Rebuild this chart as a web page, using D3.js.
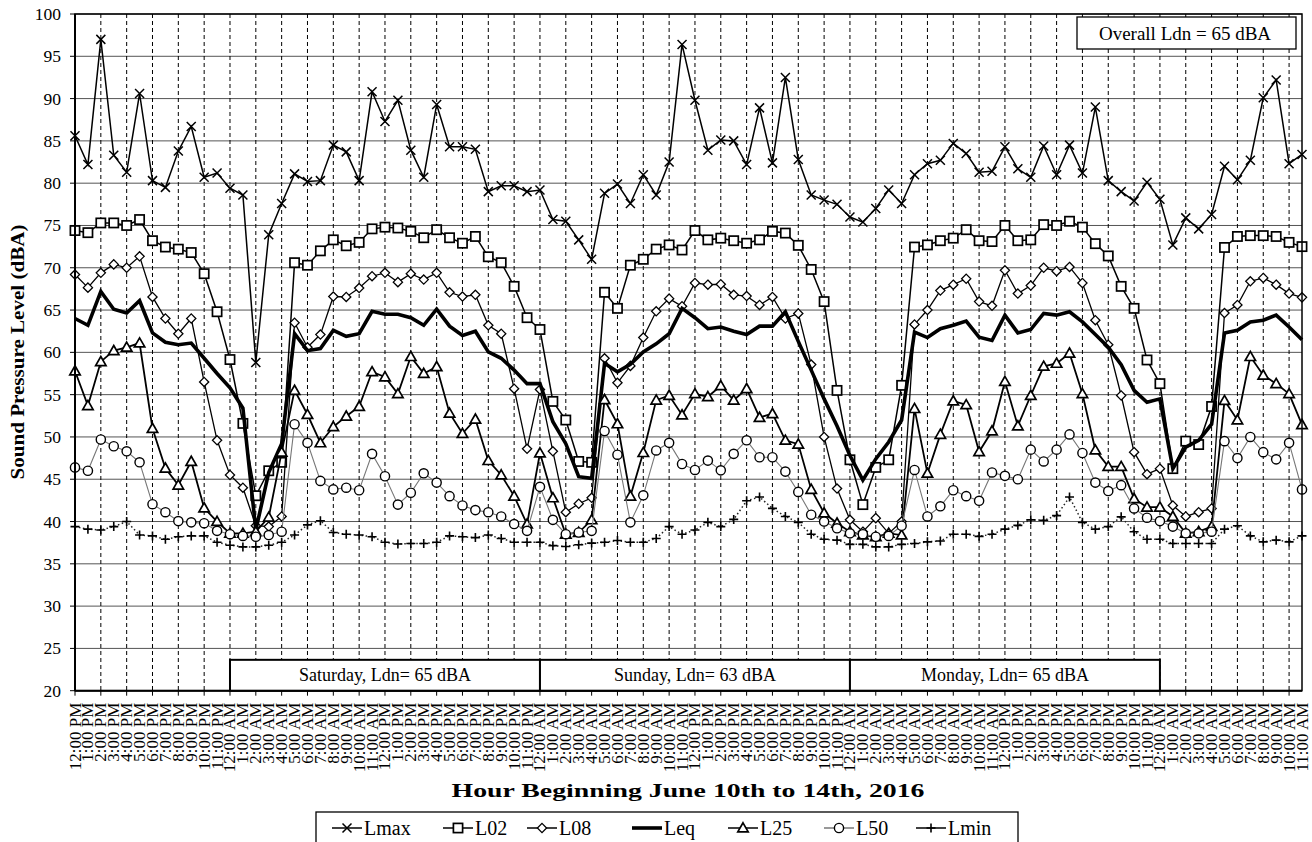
<!DOCTYPE html>
<html>
<head>
<meta charset="utf-8">
<script src="https://d3js.org/d3.v7.min.js"></script>
<style>
  body { margin: 0; background: #fff; }
  svg text { font-family: "Liberation Serif", "Times New Roman", serif; fill: #000; }
</style>
</head>
<body>
<svg id="chart" width="1312" height="842"></svg>
<script>

// hour labels for one day, starting at noon
var hourNames = ["12:00 PM","1:00 PM","2:00 PM","3:00 PM","4:00 PM","5:00 PM","6:00 PM","7:00 PM","8:00 PM","9:00 PM","10:00 PM","11:00 PM",
                 "12:00 AM","1:00 AM","2:00 AM","3:00 AM","4:00 AM","5:00 AM","6:00 AM","7:00 AM","8:00 AM","9:00 AM","10:00 AM","11:00 AM"];
var hourLabels = [].concat(hourNames, hourNames, hourNames, hourNames);

var Lmax = [85.6,82.2,97.0,83.3,81.3,90.6,80.3,79.5,83.8,86.7,80.7,81.2,79.4,78.6,58.8,73.9,77.6,81.1,80.2,80.3,84.5,83.7,80.3,90.8,
            87.3,89.8,83.9,80.7,89.3,84.3,84.3,84.0,79.0,79.7,79.7,79.0,79.2,75.7,75.5,73.3,71.0,78.8,79.9,77.6,81.0,78.6,82.5,96.4,
            89.8,83.9,85.1,85.0,82.2,88.9,82.4,92.5,82.8,78.6,78.0,77.5,76.0,75.4,77.0,79.2,77.6,81.0,82.3,82.7,84.7,83.5,81.3,81.4,
            84.3,81.7,80.7,84.4,81.0,84.5,81.2,89.0,80.3,79.0,77.9,80.1,78.1,72.7,75.9,74.6,76.3,82.0,80.4,82.7,90.1,92.2,82.3,83.4];
var L02  = [74.4,74.15,75.3,75.3,75.0,75.7,73.2,72.45,72.2,71.8,69.3,64.8,59.15,51.6,43.05,46.0,47.0,70.6,70.3,72.0,73.3,72.6,73.0,74.6,
            74.8,74.7,74.3,73.55,74.5,73.55,72.9,73.7,71.3,70.6,67.8,64.1,62.7,54.2,52.0,47.1,47.0,67.1,65.2,70.3,71.0,72.2,72.7,72.1,
            74.4,73.3,73.5,73.2,72.9,73.3,74.3,74.1,72.65,69.8,66.0,55.5,47.3,42.0,46.4,47.3,56.1,72.45,72.7,73.2,73.5,74.5,73.2,73.1,
            75.0,73.2,73.3,75.1,75.0,75.5,74.8,72.85,71.4,67.8,65.2,59.1,56.3,46.25,49.5,49.1,53.6,72.4,73.7,73.8,73.8,73.7,73.0,72.5];
var L08  = [69.2,67.65,69.4,70.4,70.0,71.35,66.55,64.0,62.2,64.0,56.5,49.6,45.5,44.0,39.5,39.4,40.6,63.5,60.6,62.1,66.6,66.55,67.6,69.0,
            69.4,68.3,69.3,68.6,69.4,67.1,66.6,66.8,63.2,62.2,55.7,48.6,55.6,48.3,41.1,42.1,42.8,59.3,56.4,58.4,61.75,64.85,66.35,65.45,
            68.2,68.0,68.05,66.8,66.65,65.6,66.55,64.0,64.6,58.55,50.0,43.9,40.2,38.8,40.4,38.6,40.0,63.3,65.0,67.3,68.0,68.7,66.0,65.5,
            69.7,66.95,67.9,70.0,69.6,70.1,68.2,63.8,60.9,54.9,48.2,45.6,46.25,41.9,40.6,41.1,41.55,64.65,65.6,68.4,68.8,68.0,66.95,66.5];
var Leq  = [64.0,63.2,67.2,65.1,64.65,66.1,62.3,61.2,60.9,61.1,59.3,57.5,55.8,53.4,39.0,45.8,49.2,62.2,60.2,60.45,62.6,61.9,62.2,64.85,
            64.5,64.5,64.1,63.2,65.1,63.1,62.0,62.5,60.05,59.3,57.9,56.3,56.3,51.8,49.2,45.3,45.1,58.7,57.7,58.6,60.05,61.0,62.2,65.2,
            64.1,62.8,63.0,62.5,62.1,63.1,63.1,64.8,61.3,57.9,54.5,51.3,47.8,44.9,47.4,49.4,52.0,62.4,61.75,62.8,63.2,63.7,61.8,61.4,
            64.4,62.3,62.7,64.6,64.4,64.8,63.6,62.1,60.6,58.55,55.5,54.1,54.5,46.25,48.8,49.6,51.5,62.3,62.6,63.6,63.8,64.4,63.0,61.5];
var L25  = [57.8,53.7,58.9,60.2,60.6,61.1,51.0,46.3,44.3,47.1,41.6,40.0,38.6,38.6,38.8,40.5,48.2,55.5,52.65,49.3,51.2,52.45,53.6,57.7,
            57.1,55.1,59.5,57.5,58.3,52.8,50.4,52.1,47.2,45.5,43.0,39.7,48.1,42.8,38.5,38.7,40.2,54.4,51.55,43.0,48.15,54.35,54.9,52.6,
            55.1,54.75,56.05,54.35,55.7,52.3,52.75,49.6,49.15,43.8,41.0,39.8,38.8,38.4,38.2,38.6,38.4,53.35,45.7,50.3,54.25,53.8,48.25,50.7,
            56.55,51.3,54.9,58.35,58.7,59.9,55.1,48.45,46.5,46.5,42.7,41.7,41.7,40.6,38.6,38.8,39.4,54.3,52.0,59.5,57.3,56.3,55.1,51.45];
var L50  = [46.4,46.0,49.7,48.9,48.3,47.0,42.05,41.1,40.05,39.9,39.8,38.9,38.5,38.3,38.2,38.4,38.8,51.5,49.3,44.8,43.8,44.0,43.7,48.0,
            45.35,42.0,43.4,45.7,44.6,43.0,41.9,41.35,41.1,40.6,39.7,38.9,44.1,40.2,38.5,38.7,38.9,50.7,47.9,39.9,43.1,48.4,49.3,46.8,
            46.1,47.2,46.05,48.0,49.6,47.6,47.6,45.9,43.5,40.8,40.0,39.2,38.6,38.5,38.2,38.3,39.5,46.1,40.6,41.8,43.7,43.0,42.45,45.8,
            45.4,45.0,48.5,47.1,48.5,50.3,48.1,44.6,43.6,44.3,41.55,40.45,40.05,39.4,38.6,38.6,38.8,49.5,47.5,50.0,48.2,47.35,49.3,43.8];
var Lmin = [39.4,39.1,39.0,39.4,40.0,38.4,38.3,37.9,38.2,38.3,38.3,37.55,37.2,37.0,37.0,37.2,37.55,38.4,39.6,40.1,38.7,38.5,38.4,38.2,
            37.55,37.35,37.4,37.4,37.55,38.3,38.2,38.1,38.4,38.0,37.55,37.55,37.55,37.15,37.05,37.25,37.45,37.55,37.75,37.55,37.55,38.0,39.4,38.5,
            39.0,39.9,39.4,40.25,42.45,42.9,41.55,40.6,39.9,38.5,37.9,37.8,37.3,37.3,37.0,37.0,37.3,37.4,37.6,37.7,38.5,38.5,38.25,38.5,
            39.1,39.55,40.2,40.15,40.7,42.9,39.9,39.1,39.4,40.55,38.8,37.9,37.9,37.4,37.4,37.4,37.4,39.1,39.5,38.3,37.6,37.8,37.6,38.3];

var seriesNames = ["Lmax", "L02", "L08", "Leq", "L25", "L50", "Lmin"];
var seriesValues = [Lmax, L02, L08, Leq, L25, L50, Lmin];

var yTicks = [20,25,30,35,40,45,50,55,60,65,70,75,80,85,90,95,100];

var dayBoxLabels = ["Saturday, Ldn= 65 dBA", "Sunday, Ldn= 63 dBA", "Monday, Ldn= 65 dBA"];
var dayBoxStart = [12, 36, 60];
var dayBoxEnd   = [36, 60, 84];
var overallLabel = "Overall Ldn = 65 dBA";

var xTitle = "Hour Beginning June 10th to 14th, 2016";
var yTitle = "Sound Pressure Level (dBA)";

/*
 * style for every series: line look and marker kind
 */
var styles = {
    Lmax: { width: 1.5, color: "#000", dash: null,      marker: "x" },
    L02:  { width: 1.5, color: "#000", dash: null,      marker: "square" },
    L08:  { width: 1.3, color: "#000", dash: null,      marker: "diamond" },
    Leq:  { width: 3.6, color: "#000", dash: null,      marker: null },
    L25:  { width: 1.8, color: "#000", dash: null,      marker: "triangle" },
    L50:  { width: 1.1, color: "#777", dash: null,      marker: "circle" },
    Lmin: { width: 1.5, color: "#222", dash: "1.5,2.5", marker: "plus" }
};

var svg = d3.select("#chart");
var plotL = 75, plotR = 1302, plotT = 14, plotB = 690.7;

var x = d3.scalePoint().domain(d3.range(hourLabels.length)).range([plotL, plotR]);
var y = d3.scaleLinear().domain([20, 100]).range([plotB, plotT]);

/*
 * Draw one marker of the given kind centred on (cx, cy)
 */
drawMarker = function(g, kind, cx, cy) {
    if (kind == "x") {
        var s = 4.5;
        g.append("path").attr("d", "M"+(cx-s)+","+(cy-s)+"L"+(cx+s)+","+(cy+s)+"M"+(cx-s)+","+(cy+s)+"L"+(cx+s)+","+(cy-s))
            .attr("stroke", "#000").attr("stroke-width", 1.5).attr("fill", "none");
    }
    else if (kind == "plus") {
        var s = 4.5;
        g.append("path").attr("d", "M"+(cx-s)+","+cy+"L"+(cx+s)+","+cy+"M"+cx+","+(cy-s)+"L"+cx+","+(cy+s))
            .attr("stroke", "#000").attr("stroke-width", 1.6).attr("fill", "none");
    }
    else if (kind == "square") {
        g.append("rect").attr("x", cx-4.6).attr("y", cy-4.6).attr("width", 9.2).attr("height", 9.2)
            .attr("fill", "#fff").attr("stroke", "#000").attr("stroke-width", 1.7);
    }
    else if (kind == "diamond") {
        var s = 4.6;
        g.append("path").attr("d", "M"+cx+","+(cy-s)+"L"+(cx+s)+","+cy+"L"+cx+","+(cy+s)+"L"+(cx-s)+","+cy+"Z")
            .attr("fill", "#fff").attr("stroke", "#000").attr("stroke-width", 1.3);
    }
    else if (kind == "triangle") {
        var s = 5.2;
        g.append("path").attr("d", "M"+cx+","+(cy-s)+"L"+(cx+s)+","+(cy+s*0.75)+"L"+(cx-s)+","+(cy+s*0.75)+"Z")
            .attr("fill", "#fff").attr("stroke", "#000").attr("stroke-width", 1.7);
    }
    else if (kind == "circle") {
        g.append("circle").attr("cx", cx).attr("cy", cy).attr("r", 4.6)
            .attr("fill", "#fff").attr("stroke", "#000").attr("stroke-width", 1.4);
    }
}

// horizontal gridlines
svg.append("g").selectAll("line").data(yTicks).enter().append("line")
    .attr("x1", plotL).attr("x2", plotR)
    .attr("y1", function(d) { return y(d); }).attr("y2", function(d) { return y(d); })
    .attr("stroke", "#555").attr("stroke-width", 1);

// dashed vertical gridlines every second hour
var evenHours = d3.range(2, hourLabels.length, 2);
svg.append("g").selectAll("line").data(evenHours).enter().append("line")
    .attr("x1", function(d) { return x(d); }).attr("x2", function(d) { return x(d); })
    .attr("y1", plotT).attr("y2", plotB)
    .attr("stroke", "#000").attr("stroke-width", 1).attr("stroke-dasharray", "4,3");

// the series
seriesNames.forEach(function(name, k) {
    var st = styles[name];
    var vals = seriesValues[k];
    var g = svg.append("g").attr("class", "series-" + name);
    var line = d3.line().x(function(d, i) { return x(i); }).y(function(d) { return y(d); });
    g.append("path").datum(vals).attr("d", line)
        .attr("fill", "none").attr("stroke", st.color).attr("stroke-width", st.width)
        .attr("stroke-linejoin", "miter").attr("stroke-dasharray", st.dash);
    if (st.marker)
        vals.forEach(function(v, i) { drawMarker(g, st.marker, x(i), y(v)); });
});

// plot frame
svg.append("rect").attr("x", plotL).attr("y", plotT).attr("width", plotR-plotL).attr("height", plotB-plotT)
    .attr("fill", "none").attr("stroke", "#000").attr("stroke-width", 1.5);
svg.append("line").attr("x1", plotL).attr("x2", plotL).attr("y1", plotT).attr("y2", plotB)
    .attr("stroke", "#000").attr("stroke-width", 2);
svg.append("line").attr("x1", plotL).attr("x2", plotR).attr("y1", plotB).attr("y2", plotB)
    .attr("stroke", "#000").attr("stroke-width", 2);

// day boxes sitting on the x axis
var boxTop = y(23.65);
dayBoxLabels.forEach(function(label, k) {
    var x0 = x(dayBoxStart[k]), x1 = x(dayBoxEnd[k]);
    svg.append("rect").attr("x", x0).attr("y", boxTop).attr("width", x1-x0).attr("height", plotB-boxTop)
        .attr("fill", "#fff").attr("stroke", "#000").attr("stroke-width", 2);
    svg.append("text").attr("x", (x0+x1)/2).attr("y", (boxTop+plotB)/2 + 6)
        .attr("text-anchor", "middle").attr("font-size", 18).text(label);
});

// overall box
svg.append("rect").attr("x", 1077).attr("y", 17).attr("width", 219).attr("height", 32)
    .attr("fill", "#fff").attr("stroke", "#000").attr("stroke-width", 1.3);
svg.append("text").attr("x", 1185).attr("y", 39.5).attr("text-anchor", "middle")
    .attr("font-size", 19).text(overallLabel);

// y axis ticks and labels
var yAxis = svg.append("g");
yTicks.forEach(function(t) {
    yAxis.append("line").attr("x1", plotL-5).attr("x2", plotL).attr("y1", y(t)).attr("y2", y(t))
        .attr("stroke", "#000").attr("stroke-width", 1);
    yAxis.append("text").attr("x", plotL-14).attr("y", y(t)+6).attr("text-anchor", "end")
        .attr("font-size", 17.5).text(t);
});

// x axis ticks and rotated labels
var xAxis = svg.append("g");
evenHours.concat([0]).forEach(function(i) {
    xAxis.append("line").attr("x1", x(i)).attr("x2", x(i)).attr("y1", plotB).attr("y2", plotB+5)
        .attr("stroke", "#000").attr("stroke-width", 1);
});
hourLabels.forEach(function(lab, i) {
    xAxis.append("text")
        .attr("transform", "translate(" + (x(i)+5.5) + "," + (plotB+12) + ") rotate(-90)")
        .attr("text-anchor", "end").attr("font-size", 17).text(lab);
});

// axis titles
svg.append("text").attr("x", 688).attr("y", 797).attr("text-anchor", "middle")
    .attr("font-size", 19).attr("font-weight", "bold")
    .attr("textLength", 473).attr("lengthAdjust", "spacingAndGlyphs").text(xTitle);
svg.append("text").attr("transform", "translate(24,352) rotate(-90)").attr("text-anchor", "middle")
    .attr("font-size", 19).attr("font-weight", "bold")
    .attr("textLength", 255).attr("lengthAdjust", "spacingAndGlyphs").text(yTitle);

// legend
var legendX = [332, 443, 527, 632, 728, 824, 916];
var legend = svg.append("g");
legend.append("rect").attr("x", 316).attr("y", 812).attr("width", 702).attr("height", 40)
    .attr("fill", "#fff").attr("stroke", "#000").attr("stroke-width", 1.3);
seriesNames.forEach(function(name, k) {
    var st = styles[name];
    var lx = legendX[k], ly = 828;
    legend.append("line").attr("x1", lx).attr("x2", lx+30).attr("y1", ly).attr("y2", ly)
        .attr("stroke", name == "L50" ? "#777" : "#000").attr("stroke-width", name == "Leq" ? 3.6 : 1.5);
    if (st.marker) drawMarker(legend, st.marker, lx+15, ly);
    legend.append("text").attr("x", lx+32).attr("y", ly+7).attr("font-size", 20).text(name);
});

</script>
</body>
</html>
